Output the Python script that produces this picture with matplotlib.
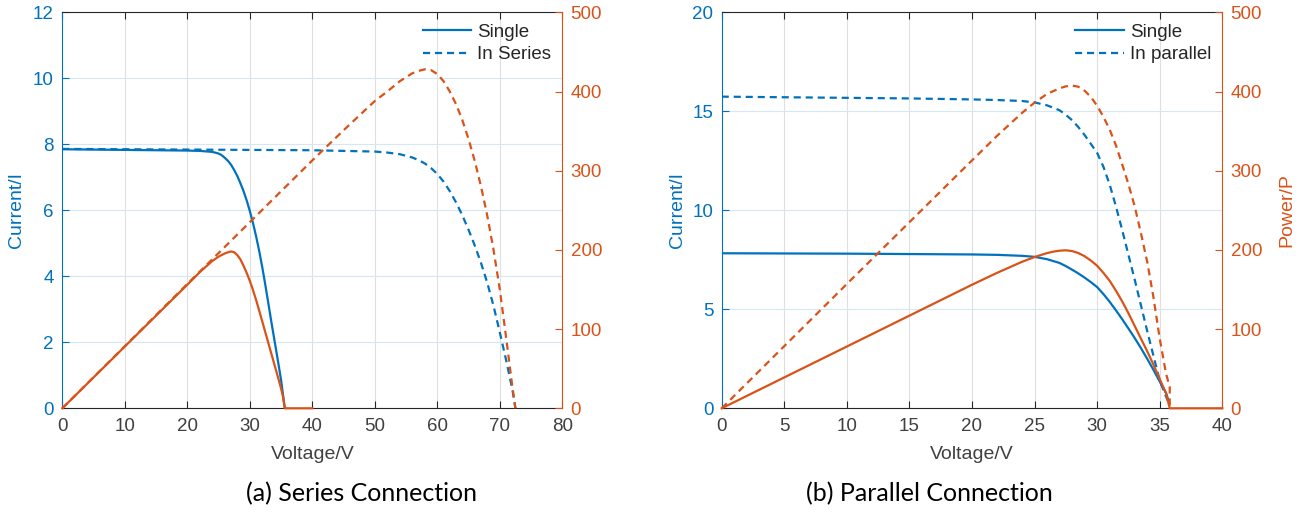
import matplotlib
matplotlib.use('Agg')
import matplotlib.pyplot as plt

# colours (MATLAB defaults)
blue = '#0072BD'
orange = '#D95319'
dark = '#262626'

plt.rcParams['font.family'] = ['Liberation Sans', 'DejaVu Sans']

# ---------------- (a) series connection ----------------
v_single_a = [0, 5, 10, 15, 20, 22, 24, 25, 25.5, 26, 26.5, 27, 27.5, 28, 28.5, 29, 29.5, 30,
              30.5, 31, 31.5, 32, 32.5, 33, 33.5, 34, 34.5, 35, 35.6]
i_single_a = [7.85, 7.84, 7.83, 7.82, 7.81, 7.80, 7.77, 7.72, 7.67, 7.59, 7.50, 7.38, 7.22,
              7.04, 6.82, 6.58, 6.30, 5.98, 5.62, 5.22, 4.77, 4.27, 3.72, 3.14, 2.56, 2.0, 1.44,
              0.86, 0]

vp_single_a = [0, 5, 10, 15, 20, 22, 24, 25, 26, 26.5, 27, 27.5, 28, 28.5, 29, 29.5, 30, 30.5,
               31, 31.5, 32, 32.5, 33, 33.5, 34, 34.5, 35, 35.3, 35.6, 40]
p_single_a = [0, 39, 78, 117, 156, 172, 186, 191.5, 195.5, 197, 198, 197, 193.5, 188, 180, 171,
              161, 149.5, 137, 123.5, 109.5, 95.5, 81.5, 67.5, 53.5, 39.5, 25, 15, 0, 0]

v_series = [0, 10, 20, 30, 40, 45, 50, 52, 54, 56, 57, 58, 59, 60, 61, 62, 63, 64, 65, 66, 67,
            68, 69, 70, 71, 72, 72.5]
i_series = [7.86, 7.85, 7.84, 7.83, 7.82, 7.80, 7.78, 7.75, 7.70, 7.60, 7.52, 7.42, 7.28, 7.1,
            6.87, 6.58, 6.24, 5.85, 5.41, 4.93, 4.4, 3.8, 3.1, 2.3, 1.47, 0.58, 0]

vp_series = [0, 10, 20, 30, 40, 45, 50, 52, 54, 55, 56, 57, 58, 59, 60, 61, 62, 63, 64, 65, 66,
             67, 68, 69, 70, 71, 72, 72.5]
p_series = [0, 78.5, 157, 235, 313, 351, 388, 400, 413, 418, 423, 426, 428, 427, 422, 413, 400,
            384, 364, 340, 312, 280, 243, 200, 150, 90, 28, 0]

# ---------------- (b) parallel connection ----------------
v_single_b = [0, 5, 10, 15, 20, 22, 24, 25, 26, 27, 27.5, 28, 28.5, 29, 29.5, 30, 30.5, 31,
              31.5, 32, 32.5, 33, 33.5, 34, 34.5, 35, 35.5, 35.75]
i_single_b = [7.83, 7.82, 7.81, 7.79, 7.77, 7.75, 7.70, 7.65, 7.53, 7.34, 7.18, 7.0, 6.81, 6.6,
              6.37, 6.12, 5.77, 5.38, 4.95, 4.5, 4.03, 3.55, 3.04, 2.5, 1.94, 1.35, 0.78, 0.3]

vp_single_b = [0, 5, 10, 15, 20, 22, 24, 25, 26, 26.5, 27, 27.5, 28, 28.5, 29, 29.5, 30, 30.5,
               31, 31.5, 32, 32.5, 33, 33.5, 34, 34.5, 35, 35.5, 35.8, 40]
p_single_b = [0, 39, 78, 117, 156, 171, 185, 191, 196, 197.8, 199, 199.5, 198.5, 196, 192,
              186.5, 180, 171, 161, 148.5, 135, 120, 104, 88, 72, 55, 37, 19, 0, 0]

v_parallel = [0, 5, 10, 15, 20, 22, 24, 25, 26, 27, 27.5, 28, 28.5, 29, 29.5, 30, 30.5, 31,
              31.5, 32, 32.5, 33, 33.5, 34, 34.5, 35, 35.5, 35.7]
i_parallel = [15.74, 15.71, 15.68, 15.65, 15.6, 15.57, 15.52, 15.45, 15.3, 15.05, 14.82, 14.55,
              14.2, 13.8, 13.35, 12.9, 12.2, 11.3, 10.2, 9.0, 7.75, 6.5, 5.2, 3.9, 2.65, 1.4,
              0.6, 0.3]

vp_parallel = [0, 5, 10, 15, 20, 22, 24, 25, 26, 27, 27.5, 28, 28.5, 29, 29.5, 30, 30.5, 31,
               31.5, 32, 32.5, 33, 33.5, 34, 34.5, 35, 35.5, 35.8, 35.8]
p_parallel = [0, 78.5, 157, 235, 313, 344, 373, 386, 397, 404, 406.5, 407.5, 406, 401, 393, 382,
              368, 352, 332, 308, 283, 255, 221, 185, 140, 88, 44, 27, 0]

W, H = 1303, 513
fig = plt.figure(figsize=(W / 100, H / 100), dpi=100)


def panel(rect, xmax, xstep, ymax, ystep, v1, i1, vp1, p1, v2, i2, vp2, p2, label2):
    ax = fig.add_axes(rect)
    ax2 = ax.twinx()

    ax.plot(v1, i1, color=blue, lw=1.6, label='Single', zorder=3)
    ax.plot(v2, i2, color=blue, lw=1.6, ls=(0, (3.2, 2.2)), label=label2, zorder=3)
    ax2.plot(vp1, p1, color=orange, lw=1.6, clip_on=False)
    ax2.plot(vp2, p2, color=orange, lw=1.6, ls=(0, (3.2, 2.2)), clip_on=False)

    ax.set_xlim(0, xmax)
    ax.set_ylim(0, ymax)
    ax2.set_ylim(0, 500)
    ax.set_xticks(range(0, xmax + 1, xstep))
    ax.set_yticks(range(0, ymax + 1, ystep))
    ax2.set_yticks(range(0, 501, 100))

    ax.grid(axis='x', color='#DFDFDF', lw=0.8)
    ax.grid(axis='y', color='#D6E7F4', lw=0.8)
    ax.set_axisbelow(True)

    for s in ('top', 'bottom'):
        ax.spines[s].set_color(dark)
        ax2.spines[s].set_visible(False)
    ax.spines['left'].set_color(blue)
    ax.spines['right'].set_visible(False)
    ax2.spines['left'].set_visible(False)
    ax2.spines['right'].set_color(orange)

    ax.tick_params(axis='x', direction='in', top=True, colors='#404040', labelsize=13.5,
                   length=5, pad=7)
    ax.tick_params(axis='x', which='both', color=dark)
    ax.tick_params(axis='y', direction='in', colors=blue, labelsize=13.5, length=5, pad=6)
    ax2.tick_params(axis='y', direction='in', colors=orange, labelsize=13.5, length=5, pad=6)

    ax.set_xlabel('Voltage/V', fontsize=14, color='#404040')
    ax.xaxis.set_label_coords(0.5, -0.095)
    ax.set_ylabel('Current/I', fontsize=14, color=blue)

    leg = ax2.legend(handles=ax.get_lines(), loc='upper right', frameon=False,
                     fontsize=13.5, handlelength=2.6, handletextpad=0.3,
                     labelspacing=0.3, borderaxespad=0.2)
    for t in leg.get_texts():
        t.set_color(dark)
    return ax, ax2


axa, axa2 = panel([62.3 / W, 1 - 408.3 / H, 500 / W, 396 / H], 80, 10, 12, 2,
                  v_single_a, i_single_a, vp_single_a, p_single_a,
                  v_series, i_series, vp_series, p_series, 'In Series')
axa.yaxis.set_label_coords(-0.075, 0.5)

axb, axb2 = panel([721.7 / W, 1 - 408.3 / H, 500.6 / W, 396 / H], 40, 5, 20, 5,
                  v_single_b, i_single_b, vp_single_b, p_single_b,
                  v_parallel, i_parallel, vp_parallel, p_parallel, 'In parallel')
axb.yaxis.set_label_coords(-0.072, 0.5)
axb2.set_ylabel('Power/P', fontsize=14, color=orange)
axb2.yaxis.set_label_coords(1.112, 0.5)

fig.text(362 / W, 1 - 494 / H, '(a) Series Connection', ha='center', va='center',
         fontsize=18, family=['Lato', 'DejaVu Sans'], color='black')
fig.text(929 / W, 1 - 494 / H, '(b) Parallel Connection', ha='center', va='center',
         fontsize=18, family=['Lato', 'DejaVu Sans'], color='black')

fig.savefig('out.png', dpi=100)
